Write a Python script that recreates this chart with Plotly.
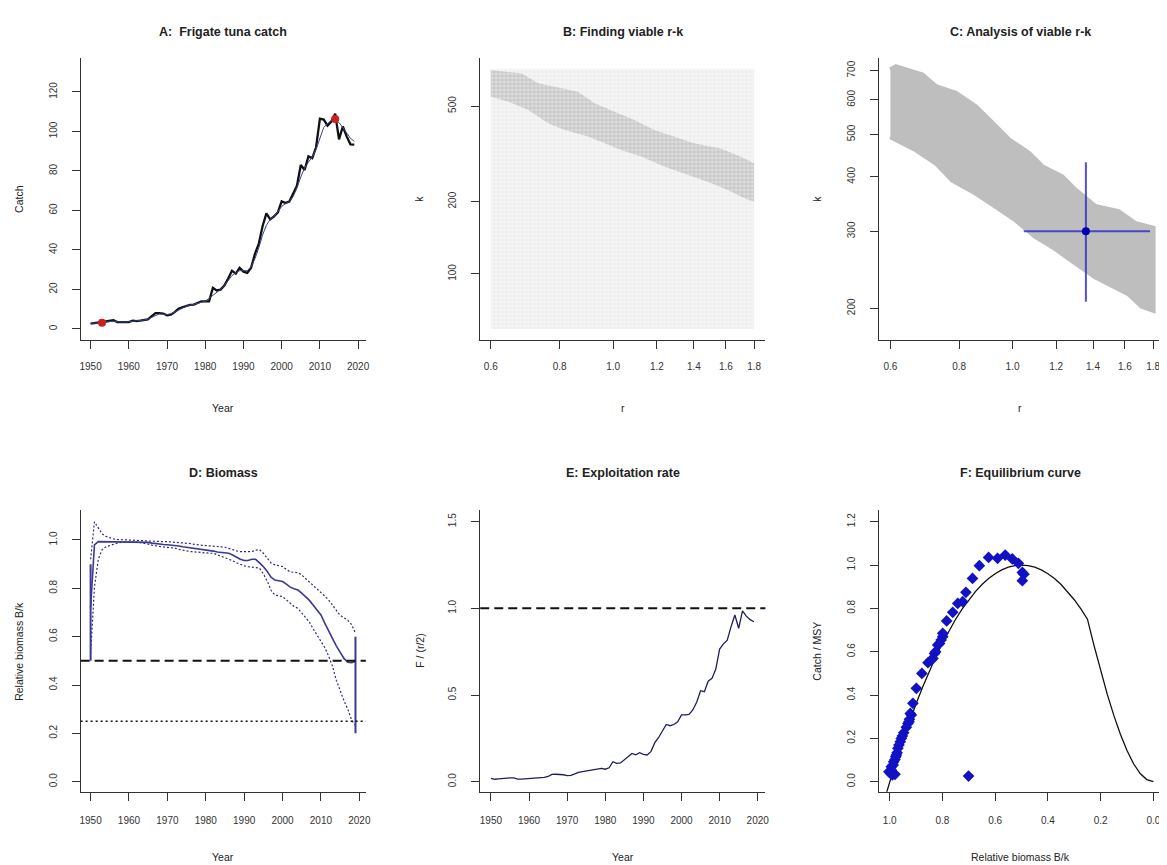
import plotly.graph_objects as go

W, H = 1167, 865
OFF = 8                 # page body margin offset
FW, FH = W - OFF, H - OFF
FONT = "Liberation Sans, Arial, sans-serif"

# ---------------- data ----------------
years = list(range(1950, 2020))

catch = [2.7, 3.0, 3.3, 3.8, 4.0, 4.2, 4.4, 3.5, 3.4, 3.4,
         3.5, 4.2, 4.0, 4.2, 4.5, 4.8, 6.5, 8.0, 8.0, 7.8,
         6.9, 7.2, 8.5, 10.2, 11.0, 11.8, 12.2, 12.3, 13.2, 14.0,
         14.0, 14.0, 20.8, 19.5, 19.9, 22.0, 25.5, 29.5, 28.0, 31.0,
         29.0, 28.4, 31.0, 38.0, 43.0, 52.0, 58.5, 55.5, 57.0, 59.0,
         64.6, 63.8, 64.5, 68.5, 72.5, 83.0, 80.5, 87.4, 86.5, 92.0,
         106.5, 106.0, 103.0, 105.0, 109.0, 96.0, 102.5, 97.5, 93.5, 93.3]

catch_smooth = [2.8, 3.0, 3.2, 3.4, 3.7, 3.9, 3.9, 3.7, 3.5, 3.5,
                3.6, 3.8, 4.0, 4.2, 4.5, 5.0, 6.0, 7.0, 7.6, 7.5,
                7.3, 7.6, 8.5, 9.7, 10.7, 11.4, 12.0, 12.5, 13.1, 13.6,
                14.0, 15.5, 17.0, 18.5, 20.0, 22.0, 24.5, 27.0, 28.5, 29.5,
                29.5, 29.5, 31.5, 35.5, 41.0, 47.5, 52.5, 55.5, 57.0, 59.5,
                62.0, 63.5, 64.5, 67.0, 71.5, 77.0, 81.5, 84.5, 87.0, 91.0,
                97.0, 102.0, 104.0, 105.5, 106.3, 104.5, 102.0, 99.0, 96.5, 95.0]

catch_mark_years = [1953, 2014]
catch_mark_values = [3.1, 106.3]

# Panel B: explored r-k space and viable band (boundaries)
explored_r = [0.6, 1.8, 1.8, 0.6, 0.6]
explored_k = [59, 59, 715, 715, 59]
band_b_upper_r = [0.6, 0.646, 0.682, 0.731, 0.806, 0.863, 0.925, 1.005, 1.092, 1.187, 1.29, 1.401, 1.565, 1.70, 1.8]
band_b_upper_k = [706, 695, 684, 622, 593, 574, 513, 474, 437, 397, 373, 350, 333, 308, 289]
band_b_lower_r = [0.6, 0.646, 0.702, 0.762, 0.817, 0.90, 0.965, 1.033, 1.123, 1.237, 1.363, 1.481, 1.609, 1.724, 1.8]
band_b_lower_k = [547, 521, 481, 424, 397, 373, 350, 328, 308, 280, 258, 242, 224, 207, 200]

# Panel C: viable r-k cloud and estimate with ranges
band_c_upper_r = [0.6, 0.614, 0.686, 0.726, 0.789, 0.857, 0.906, 0.985, 1.07, 1.132, 1.23, 1.30, 1.413, 1.557, 1.669, 1.8]
band_c_upper_k = [703, 715, 684, 643, 621, 579, 540, 486, 453, 422, 400, 373, 342, 333, 313, 305]
band_c_lower_r = [0.6, 0.668, 0.726, 0.778, 0.857, 0.932, 1.012, 1.10, 1.18, 1.30, 1.413, 1.494, 1.623, 1.717, 1.8]
band_c_lower_k = [494, 461, 430, 393, 367, 342, 319, 292, 277, 254, 236, 228, 216, 202, 198]
r_est, r_lo, r_hi = 1.359, 1.048, 1.777
k_est, k_lo, k_hi = 300, 207, 432

# Panel D: relative biomass
bk_median = [0.72, 0.98, 0.993, 0.993, 0.993, 0.993, 0.993, 0.993, 0.993, 0.993,
             0.993, 0.992, 0.992, 0.992, 0.991, 0.990, 0.987, 0.984, 0.982, 0.981,
             0.980, 0.979, 0.978, 0.975, 0.972, 0.970, 0.968, 0.966, 0.964, 0.962,
             0.961, 0.958, 0.954, 0.950, 0.948, 0.946, 0.945, 0.938, 0.928, 0.920,
             0.915, 0.915, 0.920, 0.920, 0.905, 0.890, 0.870, 0.846, 0.834, 0.830,
             0.828, 0.817, 0.805, 0.798, 0.793, 0.780, 0.765, 0.750, 0.730, 0.708,
             0.690, 0.656, 0.622, 0.593, 0.562, 0.535, 0.510, 0.494, 0.492, 0.497]
bk_upper = [0.92, 1.075, 1.05, 1.025, 1.015, 1.008, 1.004, 1.002, 1.001, 1.0,
            1.0, 1.0, 0.999, 0.998, 0.997, 0.997, 0.996, 0.995, 0.994, 0.993,
            0.993, 0.992, 0.991, 0.990, 0.989, 0.987, 0.985, 0.982, 0.979, 0.978,
            0.977, 0.976, 0.975, 0.973, 0.971, 0.970, 0.965, 0.959, 0.955, 0.952,
            0.951, 0.951, 0.952, 0.958, 0.960, 0.945, 0.925, 0.905, 0.897, 0.893,
            0.890, 0.878, 0.868, 0.866, 0.865, 0.855, 0.841, 0.825, 0.810, 0.797,
            0.785, 0.768, 0.752, 0.730, 0.705, 0.688, 0.678, 0.668, 0.650, 0.614]
bk_lower = [0.53, 0.805, 0.92, 0.96, 0.972, 0.978, 0.983, 0.987, 0.990, 0.992,
            0.993, 0.993, 0.992, 0.990, 0.987, 0.983, 0.979, 0.975, 0.973, 0.971,
            0.970, 0.970, 0.966, 0.961, 0.957, 0.954, 0.952, 0.951, 0.949, 0.947,
            0.946, 0.945, 0.945, 0.939, 0.933, 0.928, 0.921, 0.914, 0.906, 0.899,
            0.893, 0.890, 0.889, 0.886, 0.883, 0.860, 0.830, 0.792, 0.772, 0.768,
            0.766, 0.752, 0.737, 0.725, 0.717, 0.698, 0.680, 0.660, 0.632, 0.607,
            0.585, 0.555, 0.520, 0.478, 0.420, 0.375, 0.335, 0.300, 0.255, 0.232]
prior_start_year, prior_start_lo, prior_start_hi = 1950, 0.5, 0.9
prior_end_year, prior_end_lo, prior_end_hi = 2019, 0.2, 0.6
bmsy_level = 0.5
blim_level = 0.25

# Panel E: exploitation rate F/(r/2)
f_rel = [0.019, 0.014, 0.016, 0.019, 0.021, 0.022, 0.022, 0.015, 0.015, 0.016,
         0.019, 0.020, 0.020, 0.022, 0.025, 0.030, 0.042, 0.043, 0.042, 0.040,
         0.035, 0.037, 0.045, 0.054, 0.058, 0.062, 0.064, 0.066, 0.071, 0.077,
         0.072, 0.080, 0.115, 0.106, 0.108, 0.125, 0.145, 0.163, 0.155, 0.167,
         0.158, 0.154, 0.175, 0.225, 0.255, 0.290, 0.330, 0.323, 0.330, 0.346,
         0.385, 0.385, 0.388, 0.415, 0.460, 0.525, 0.519, 0.580, 0.596, 0.650,
         0.765, 0.795, 0.817, 0.895, 0.962, 0.885, 0.985, 0.955, 0.935, 0.923]
fmsy_level = 1.0

# Panel F: equilibrium curve and observed points
eq_bk = [1.02, 1.0, 0.975, 0.95, 0.925, 0.9, 0.875, 0.85, 0.825, 0.8, 0.775, 0.75, 0.725, 0.7,
         0.675, 0.65, 0.625, 0.6, 0.575, 0.55, 0.525, 0.5, 0.475, 0.45, 0.425, 0.4, 0.375,
         0.35, 0.325, 0.3, 0.275, 0.25, 0.225, 0.2, 0.175, 0.15, 0.125, 0.1, 0.075, 0.05,
         0.025, 0.0]
eq_cmsy = [-0.082, 0.0, 0.0975, 0.19, 0.2775, 0.36, 0.4375, 0.51, 0.5775, 0.64, 0.6975, 0.75,
           0.7975, 0.84, 0.8775, 0.91, 0.9375, 0.96, 0.9775, 0.99, 0.9975, 1.0, 0.9975, 0.99,
           0.9775, 0.96, 0.9375, 0.91, 0.8775, 0.84, 0.7975, 0.75, 0.628, 0.512, 0.404, 0.306,
           0.219, 0.144, 0.083, 0.038, 0.010, 0.0]
obs_bk = [1.003, 0.997, 0.994, 0.990, 0.985, 0.980, 0.994, 0.987, 0.985, 0.980, 0.977, 0.975,
          0.972, 0.969, 0.965, 0.960, 0.956, 0.952, 0.947, 0.937, 0.931, 0.925, 0.918, 0.927,
          0.922, 0.912, 0.899, 0.878, 0.855, 0.843, 0.836, 0.830, 0.826, 0.818, 0.811, 0.805,
          0.799, 0.799, 0.784, 0.761, 0.742, 0.723, 0.711, 0.686, 0.660, 0.625, 0.591, 0.562,
          0.535, 0.512, 0.497, 0.491, 0.497, 0.701]
obs_cmsy = [0.046, 0.038, 0.054, 0.031, 0.038, 0.034, 0.069, 0.077, 0.092, 0.103, 0.115, 0.123,
            0.134, 0.154, 0.169, 0.185, 0.200, 0.211, 0.226, 0.251, 0.269, 0.288, 0.308, 0.277,
            0.315, 0.362, 0.431, 0.500, 0.549, 0.562, 0.569, 0.592, 0.600, 0.631, 0.638, 0.654,
            0.669, 0.685, 0.742, 0.782, 0.823, 0.831, 0.874, 0.938, 0.997, 1.035, 1.031, 1.046,
            1.028, 1.008, 0.966, 0.958, 0.928, 0.026]

year_ticks = [1950, 1960, 1970, 1980, 1990, 2000, 2010, 2020]
r_ticks = [0.6, 0.8, 1.0, 1.2, 1.4, 1.6, 1.8]
r_tick_text = ["0.6", "0.8", "1.0", "1.2", "1.4", "1.6", "1.8"]

# ---------------- layout geometry (page pixels) ----------------
panels = {
    1: dict(x=(80, 367), y=(58, 340)),
    2: dict(x=(481.7, 768), y=(58, 340)),
    3: dict(x=(882.7, 1166), y=(58, 340)),
    4: dict(x=(80, 366.7), y=(510, 791.7)),
    5: dict(x=(481.7, 768.3), y=(510, 791.7)),
    6: dict(x=(882.7, 1166), y=(510, 791.7)),
}

def px(x):
    return (x - OFF) / FW

def py(y):
    return 1 - (y - OFF) / FH

def xdom(i):
    a, b = panels[i]["x"]
    return [px(a), min(1.0, px(b))]

def ydom(i):
    a, b = panels[i]["y"]
    return [py(b), py(a)]

fig = go.Figure()

def ax(i):
    return ("x" if i == 1 else f"x{i}"), ("y" if i == 1 else f"y{i}")

# Panel A
xa, ya = ax(1)
fig.add_trace(go.Scatter(x=years, y=catch, mode="lines", line=dict(color="#111111", width=2.3),
                         xaxis=xa, yaxis=ya, showlegend=False))
fig.add_trace(go.Scatter(x=years, y=catch_smooth, mode="lines", line=dict(color="#3a4488", width=1),
                         xaxis=xa, yaxis=ya, showlegend=False))
fig.add_trace(go.Scatter(x=catch_mark_years, y=catch_mark_values, mode="markers",
                         marker=dict(color="#cc2020", size=8), xaxis=xa, yaxis=ya, showlegend=False))

# Panel B
xa, ya = ax(2)
fig.add_trace(go.Scatter(x=explored_r, y=explored_k, mode="lines", fill="toself",
                         line=dict(width=0, color="rgba(0,0,0,0)"),
                         fillcolor="#f1f1f1",
                         fillpattern=dict(shape=".", bgcolor="#f5f5f5", fgcolor="#e4e4e4", size=4, solidity=0.4),
                         xaxis=xa, yaxis=ya, showlegend=False, hoverinfo="skip"))
fig.add_trace(go.Scatter(x=band_b_upper_r + band_b_lower_r[::-1],
                         y=band_b_upper_k + band_b_lower_k[::-1],
                         mode="lines", fill="toself", line=dict(width=0, color="rgba(0,0,0,0)"),
                         fillcolor="#c4c4c4",
                         fillpattern=dict(shape=".", bgcolor="#dedede", fgcolor="#b2b2b2", size=4, solidity=0.6),
                         xaxis=xa, yaxis=ya, showlegend=False, hoverinfo="skip"))

# Panel C
xa, ya = ax(3)
fig.add_trace(go.Scatter(x=band_c_upper_r + band_c_lower_r[::-1],
                         y=band_c_upper_k + band_c_lower_k[::-1],
                         mode="lines", fill="toself", line=dict(width=5, color="#bebebe"),
                         fillcolor="#bebebe", xaxis=xa, yaxis=ya, showlegend=False, hoverinfo="skip"))
fig.add_trace(go.Scatter(x=[r_lo, r_hi], y=[k_est, k_est], mode="lines",
                         line=dict(color="rgba(40,40,200,0.8)", width=2), xaxis=xa, yaxis=ya, showlegend=False))
fig.add_trace(go.Scatter(x=[r_est, r_est], y=[k_lo, k_hi], mode="lines",
                         line=dict(color="rgba(40,40,200,0.8)", width=2), xaxis=xa, yaxis=ya, showlegend=False))
fig.add_trace(go.Scatter(x=[r_est], y=[k_est], mode="markers", marker=dict(color="#0000b0", size=8),
                         xaxis=xa, yaxis=ya, showlegend=False))

# Panel D
xa, ya = ax(4)
fig.add_trace(go.Scatter(x=years, y=bk_upper, mode="lines", line=dict(color="#2a2a80", width=1.2, dash="2px,2px"),
                         xaxis=xa, yaxis=ya, showlegend=False))
fig.add_trace(go.Scatter(x=years, y=bk_lower, mode="lines", line=dict(color="#2a2a80", width=1.2, dash="2px,2px"),
                         xaxis=xa, yaxis=ya, showlegend=False))
fig.add_trace(go.Scatter(x=years, y=bk_median, mode="lines", line=dict(color="#3a3a92", width=1.6),
                         xaxis=xa, yaxis=ya, showlegend=False))
fig.add_trace(go.Scatter(x=[prior_start_year, prior_start_year], y=[prior_start_lo, prior_start_hi], mode="lines",
                         line=dict(color="#3a3a92", width=2), xaxis=xa, yaxis=ya, showlegend=False))
fig.add_trace(go.Scatter(x=[prior_end_year, prior_end_year], y=[prior_end_lo, prior_end_hi], mode="lines",
                         line=dict(color="#3a3a92", width=2), xaxis=xa, yaxis=ya, showlegend=False))

# Panel E
xa, ya = ax(5)
fig.add_trace(go.Scatter(x=years, y=f_rel, mode="lines", line=dict(color="#1e1e60", width=1.3),
                         xaxis=xa, yaxis=ya, showlegend=False))

# Panel F
xa, ya = ax(6)
fig.add_trace(go.Scatter(x=eq_bk, y=eq_cmsy, mode="lines", line=dict(color="#111111", width=1.3),
                         xaxis=xa, yaxis=ya, showlegend=False))
fig.add_trace(go.Scatter(x=obs_bk, y=obs_cmsy, mode="markers",
                         marker=dict(symbol="diamond", color="#1212c4", size=9),
                         xaxis=xa, yaxis=ya, showlegend=False))

# reference lines
shapes = [
    dict(type="line", xref="x4 domain", x0=0, x1=1, yref="y4", y0=bmsy_level, y1=bmsy_level,
         line=dict(color="#111111", width=2, dash="9px,5px")),
    dict(type="line", xref="x4 domain", x0=0, x1=1, yref="y4", y0=blim_level, y1=blim_level,
         line=dict(color="#111111", width=1.6, dash="2px,3px")),
    dict(type="line", xref="x5 domain", x0=0, x1=1, yref="y5", y0=fmsy_level, y1=fmsy_level,
         line=dict(color="#111111", width=2, dash="9px,5px")),
]

tickfont = dict(family=FONT, size=10, color="#333333")
common = dict(showline=True, linecolor="#333333", linewidth=1, ticks="outside", ticklen=8, tickwidth=1,
              tickcolor="#333333", showgrid=False, zeroline=False, tickfont=tickfont, mirror=False)

def xaxis(i, **kw):
    d = dict(common, domain=xdom(i), anchor=("y" if i == 1 else f"y{i}"), ticklabelstandoff=9)
    d.update(kw)
    return d

def yaxis(i, **kw):
    d = dict(common, domain=ydom(i), anchor=("x" if i == 1 else f"x{i}"), tickangle=-90, ticklabelstandoff=11)
    d.update(kw)
    return d

layout = dict(
    width=FW, height=FH, margin=dict(l=0, r=0, t=0, b=0),
    paper_bgcolor="white", plot_bgcolor="white", showlegend=False,
    font=dict(family=FONT, color="#222222"),
    shapes=shapes,
    xaxis=xaxis(1, range=[1947.4, 2022.1], tickvals=year_ticks),
    yaxis=yaxis(1, range=[-5.6, 137.2], tickvals=[0, 20, 40, 60, 80, 100, 120]),
    xaxis2=xaxis(2, type="log", range=[-0.2409, 0.2751], tickvals=r_ticks, ticktext=r_tick_text),
    yaxis2=yaxis(2, type="log", range=[1.725, 2.899], tickvals=[100, 200, 500], ticktext=["100", "200", "500"]),
    xaxis3=xaxis(3, type="log", range=[-0.2422, 0.2696], tickvals=r_ticks, ticktext=r_tick_text),
    yaxis3=yaxis(3, type="log", range=[2.2284, 2.874], tickvals=[200, 300, 400, 500, 600, 700],
                 ticktext=["200", "300", "400", "500", "600", "700"]),
    xaxis4=xaxis(4, range=[1947.4, 2021.7], tickvals=year_ticks, ticklabelstandoff=11),
    yaxis4=yaxis(4, range=[-0.0414, 1.124], tickvals=[0, 0.2, 0.4, 0.6, 0.8, 1.0],
                 ticktext=["0.0", "0.2", "0.4", "0.6", "0.8", "1.0"]),
    xaxis5=xaxis(5, range=[1947.2, 2022.0], tickvals=year_ticks, ticklabelstandoff=11),
    yaxis5=yaxis(5, range=[-0.0577, 1.5675], tickvals=[0, 0.5, 1.0, 1.5], ticktext=["0.0", "0.5", "1.0", "1.5"]),
    xaxis6=xaxis(6, range=[1.04, -0.029], tickvals=[1.0, 0.8, 0.6, 0.4, 0.2, 0.0],
                 ticktext=["1.0", "0.8", "0.6", "0.4", "0.2", "0.0"], ticklabelstandoff=11),
    yaxis6=yaxis(6, range=[-0.046, 1.254], tickvals=[0, 0.2, 0.4, 0.6, 0.8, 1.0, 1.2],
                 ticktext=["0.0", "0.2", "0.4", "0.6", "0.8", "1.0", "1.2"]),
)
fig.update_layout(**layout)

# titles and axis labels as annotations (page pixel positions)
def ann(text, x, y, size=11, bold=False, angle=0):
    return dict(text=(f"<b>{text}</b>" if bold else text), x=px(x), y=py(y), xref="paper", yref="paper",
                showarrow=False, textangle=angle, xanchor="center", yanchor="middle",
                font=dict(family=FONT, size=size, color="#222222"))

titles = ["A:  Frigate tuna catch", "B: Finding viable r-k", "C: Analysis of viable r-k",
          "D: Biomass", "E: Exploitation rate", "F: Equilibrium curve"]
xlabels = ["Year", "r", "r", "Year", "Year", "Relative biomass B/k"]
ylabels = ["Catch", "k", "k", "Relative biomass B/k", "F / (r/2)", "Catch / MSY"]
title_y = {1: 32, 2: 32, 3: 32, 4: 473, 5: 473, 6: 473}
xlab_y = {1: 408, 2: 408, 3: 408, 4: 857, 5: 857, 6: 857}
ylab_x = {1: 18, 2: 420, 3: 820, 4: 18, 5: 421, 6: 820}

anns = []
for i in range(1, 7):
    cx = sum(panels[i]["x"]) / 2
    cy = sum(panels[i]["y"]) / 2
    anns.append(ann(titles[i - 1], cx, title_y[i], size=12.5, bold=True))
    anns.append(ann(xlabels[i - 1], cx, xlab_y[i], size=10.5))
    anns.append(ann(ylabels[i - 1], ylab_x[i], cy, size=10.5, angle=-90))
fig.update_layout(annotations=anns)

fig.write_html("out.html")
